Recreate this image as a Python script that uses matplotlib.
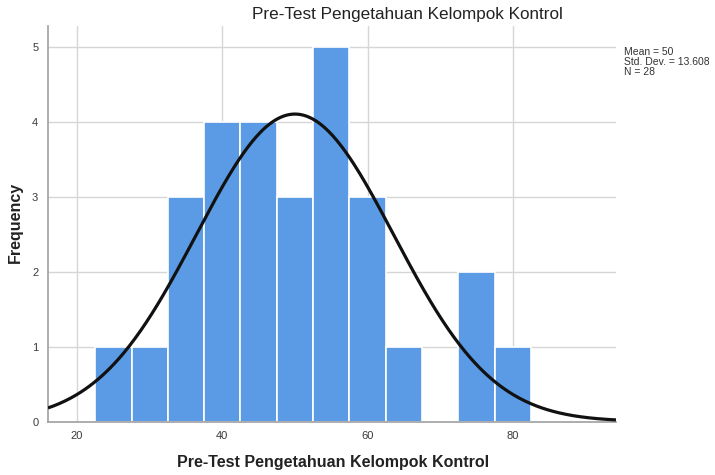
import numpy as np
import matplotlib
matplotlib.use("Agg")
import matplotlib.pyplot as plt

# Data (bin centers, counts)
bin_centers = [25, 30, 35, 40, 45, 50, 55, 60, 65, 70, 75, 80]
counts = [1, 1, 3, 4, 4, 3, 5, 3, 1, 0, 2, 1]
bin_width = 5
mean_val = 50
std_val = 13.608
n_val = 28
xticks = [20, 40, 60, 80]
yticks = [0, 1, 2, 3, 4, 5]

plt.rcParams['font.family'] = ['Liberation Sans', 'DejaVu Sans']

fig = plt.figure(figsize=(7.15, 4.75), dpi=100)
ax = fig.add_axes([48/715, 1-421.5/475, (616-48)/715, (421.5-26)/475])

ax.bar(bin_centers, counts, width=bin_width, color='#5B9BE6', edgecolor='white',
       linewidth=1.2, zorder=2)

xs = np.linspace(16, 94.2, 400)
ys = n_val * bin_width * np.exp(-0.5 * ((xs - mean_val) / std_val) ** 2) / (std_val * np.sqrt(2 * np.pi))
ax.plot(xs, ys, color='#111111', lw=2.3, zorder=3, solid_capstyle='butt')

ax.set_xlim(16, 94.2)
ax.set_ylim(0, 5.28)
ax.set_xticks(xticks)
ax.set_yticks(yticks)
ax.grid(True, color='#d6d6d6', lw=1.0, zorder=0)
ax.set_axisbelow(True)
for s in ['top', 'right']:
    ax.spines[s].set_visible(False)
for s in ['left', 'bottom']:
    ax.spines[s].set_color('#a0a0a0')
    ax.spines[s].set_linewidth(1.2)
ax.tick_params(length=0, labelsize=8, colors='#3a3a3a', pad=7)

fig.text(407/715, 1-15/475, 'Pre-Test Pengetahuan Kelompok Kontrol', ha='center', va='center',
         fontsize=12.3, color='#222222')
fig.text(333/715, 1-462/475, 'Pre-Test Pengetahuan Kelompok Kontrol', ha='center', va='center',
         fontsize=11.5, fontweight='bold', color='#222222')
fig.text(15/715, 1-222/475, 'Frequency', ha='center', va='center', rotation=90,
         fontsize=11.5, fontweight='bold', color='#222222')
fig.text(624/715, 1-62/475, f'Mean = {mean_val}\nStd. Dev. = {std_val}\nN = {n_val}',
         ha='left', va='center', fontsize=7.5, color='#333333', linespacing=0.95)

fig.savefig('out.png', dpi=100)
